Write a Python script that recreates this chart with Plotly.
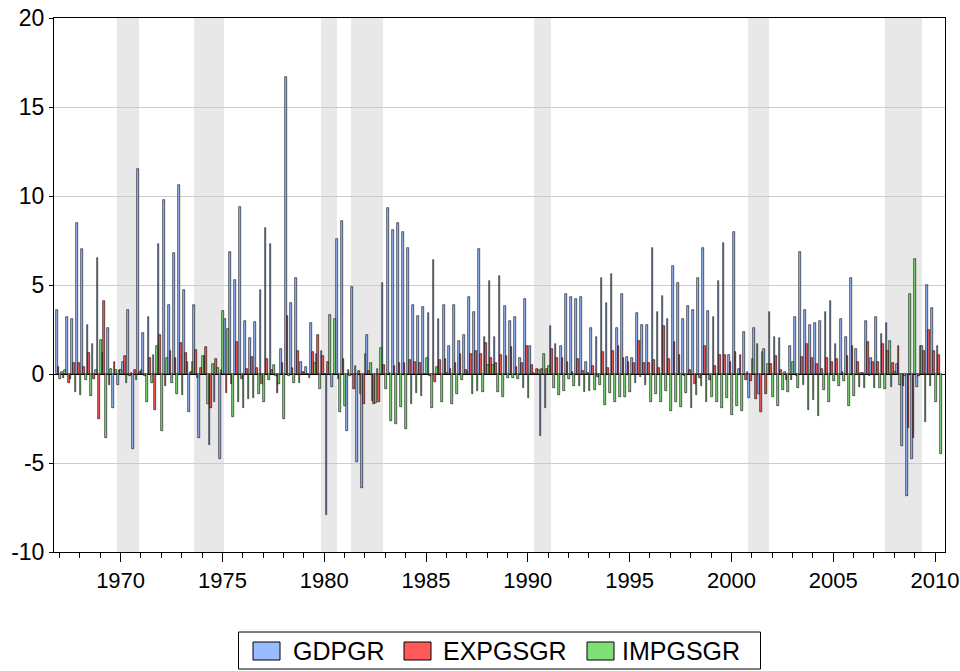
import plotly.graph_objects as go

# ---------------- data (quarterly, 1967Q1 - 2010Q2) ----------------
years = list(range(1967, 2011))
quarters = [f"{y}Q{q}" for y in years for q in range(1, 5)][:174]

gdpgr = [
    3.6, 0.1, 3.2, 3.1,      # 1967
    8.5, 7.0, 2.75, 1.7,     # 1968
    6.5, 1.2, 2.6, -1.9,     # 1969
    -0.6, 0.7, 3.6, -4.2,    # 1970
    11.5, 2.3, 3.2, 1.07,    # 1971
    7.3, 9.8, 3.9, 6.8,      # 1972
    10.6, 4.7, -2.15, 3.9,   # 1973
    -3.6, 1.0, -4.0, -1.6,   # 1974
    -4.8, 3.1, 6.85, 5.3,    # 1975
    9.4, 3.0, 2.0, 2.9,      # 1976
    4.7, 8.2, 7.3, -0.1,     # 1977
    1.4, 16.7, 4.0, 5.4,     # 1978
    0.7, 0.4, 2.85, 1.1,     # 1979
    1.3, -7.9, -0.75, 7.6,   # 1980
    8.6, -3.2, 4.9, -4.95,   # 1981
    -6.4, 2.2, -1.5, 0.3,    # 1982
    5.1, 9.3, 8.1, 8.5,      # 1983
    8.0, 7.1, 3.9, 3.25,     # 1984
    3.75, 3.4, 6.4, 3.1,     # 1985
    3.9, 1.6, 3.9, 1.85,     # 1986
    2.2, 4.3, 3.5, 7.0,      # 1987
    2.1, 5.2, 2.1, 5.5,      # 1988
    3.8, 3.0, 3.2, 0.9,      # 1989
    4.2, 1.6, 0.0, -3.5,     # 1990
    -1.9, 2.7, 1.7, 1.6,     # 1991
    4.5, 4.3, 4.2, 4.3,      # 1992
    0.7, 2.6, 2.1, 5.4,      # 1993
    4.0, 5.6, 2.6, 4.5,      # 1994
    0.95, 0.9, 3.4, 2.75,    # 1995
    2.75, 7.1, 3.5, 4.4,     # 1996
    3.1, 6.05, 5.1, 3.1,     # 1997
    3.8, 3.6, 5.4, 7.1,      # 1998
    3.55, 3.2, 5.2, 7.35,    # 1999
    1.05, 8.0, 0.3, 2.35,    # 2000
    -1.35, 2.6, -1.1, 1.4,   # 2001
    3.5, 2.1, 2.0, 0.1,      # 2002
    1.55, 3.2, 6.85, 3.6,    # 2003
    2.75, 2.85, 3.0, 3.5,    # 2004
    4.1, 1.7, 3.1, 2.1,      # 2005
    5.4, 1.4, 0.05, 3.0,     # 2006
    0.9, 3.2, 2.25, 2.85,    # 2007
    -0.75, 0.55, -4.05, -6.85,  # 2008
    -4.8, -0.75, 1.6, 5.0,   # 2009
    3.7, 1.6,                # 2010
]

expgsgr = [
    0.4, -0.2, -0.5, 0.6,    # 1967
    0.6, 0.4, 1.2, -0.3,     # 1968
    -2.5, 4.1, -0.6, 0.7,    # 1969
    0.2, 1.0, -0.1, 0.2,     # 1970
    0.1, -0.1, 0.9, -2.0,    # 1971
    2.2, -0.7, 1.3, 0.9,     # 1972
    1.75, 1.2, 0.1, 1.35,    # 1973
    0.35, 1.5, -1.9, 0.85,   # 1974
    0.25, -1.07, -0.55, 1.8, # 1975
    -0.3, 0.3, 0.95, 0.35,   # 1976
    -0.55, 0.85, 0.2, -1.07, # 1977
    0.6, 3.25, 0.35, 1.3,    # 1978
    0.1, 0.0, 1.25, 2.2,     # 1979
    1.0, 0.7, 0.0, -0.3,     # 1980
    0.85, 0.2, -0.85, 0.15,  # 1981
    -1.7, 0.15, -1.7, -1.6,  # 1982
    0.5, 0.05, 0.45, 0.6,    # 1983
    0.6, 0.8, 0.65, 0.6,     # 1984
    0.0, -0.1, -0.45, 0.8,   # 1985
    0.85, 0.3, 0.6, 1.1,     # 1986
    0.2, 1.1, 1.3, 1.15,     # 1987
    1.75, 0.9, 0.6, 1.05,    # 1988
    1.0, 1.5, 0.4, 0.6,      # 1989
    1.6, 0.5, 0.3, 0.3,      # 1990
    0.3, 1.4, 0.9, 0.9,      # 1991
    0.7, 0.1, 0.85, 0.15,    # 1992
    0.05, 0.45, -0.15, 1.25, # 1993
    0.35, 1.3, 1.55, 0.9,    # 1994
    0.7, 0.6, 1.85, 0.6,     # 1995
    0.6, 0.8, 0.35, 2.7,     # 1996
    0.85, 1.8, 1.05, -0.1,   # 1997
    0.2, -0.55, -0.25, 1.6,  # 1998
    -0.35, 0.45, 1.05, 1.05, # 1999
    0.7, 1.25, 1.05, -0.35,  # 2000
    -0.4, -1.4, -2.15, -1.1, # 2001
    0.55, 1.0, 0.2, -0.35,   # 2002
    -0.35, -0.1, 0.95, 1.7,  # 2003
    0.9, 0.55, 0.3, 0.9,     # 2004
    0.7, 0.85, 0.1, 1.0,     # 2005
    1.6, 0.7, 0.05, 1.8,     # 2006
    0.7, 0.7, 1.7, 1.3,      # 2007
    0.6, 1.55, -0.7, -3.05,  # 2008
    -3.6, -0.1, 1.3, 2.5,    # 2009
    1.3, 1.05,               # 2010
]

impgsgr = [
    -0.3, 0.2, -0.3, -1.0,   # 1967
    -1.2, -0.35, -1.25, 0.2, # 1968
    1.9, -3.6, 0.3, 0.2,     # 1969
    0.2, -0.5, 0.05, -0.35,  # 1970
    0.2, -1.6, -0.5, 1.55,   # 1971
    -3.2, 0.9, -0.5, -1.1,   # 1972
    -1.2, 0.7, 0.7, -0.2,    # 1973
    1.0, -1.7, 0.55, 0.35,   # 1974
    3.55, 2.55, -2.4, -1.6,  # 1975
    -1.9, -1.4, -1.35, -1.1, # 1976
    -1.6, -0.35, 0.5, -0.55, # 1977
    -2.5, -0.1, -0.5, -0.5,  # 1978
    0.05, -0.2, 0.6, -0.85,  # 1979
    0.0, 3.3, 3.1, -2.15,    # 1980
    -1.8, -0.1, 0.45, -1.1,  # 1981
    1.15, 0.6, -1.65, 1.45,  # 1982
    -0.85, -2.65, -2.8, -1.85,  # 1983
    -3.1, -1.7, -1.07, -1.25,   # 1984
    0.9, -1.9, 0.4, -1.55,   # 1985
    0.05, -1.7, -1.1, -0.35, # 1986
    0.1, -1.1, -0.95, -1.0,  # 1987
    0.5, 0.5, -1.0, -1.3,    # 1988
    -0.2, -0.2, -0.3, -0.8,  # 1989
    -1.35, 0.05, 0.2, 1.1,   # 1990
    0.45, -0.8, -1.2, -0.95, # 1991
    -0.3, -0.7, -0.7, -1.0,  # 1992
    -0.95, -0.9, -0.6, -1.75,   # 1993
    -1.07, -1.6, -1.3, -1.3,    # 1994
    -1.0, -0.5, -0.15, -0.6,    # 1995
    -1.6, -1.1, -1.6, -0.95,    # 1996
    -2.1, -1.6, -1.85, -1.07,   # 1997
    -1.9, -1.2, -0.7, -1.6,     # 1998
    -1.3, -1.6, -1.9, -1.35,    # 1999
    -2.3, -1.8, -2.1, 0.1,      # 2000
    0.85, 1.7, 1.25, 0.55,      # 2001
    -1.3, -1.8, -0.9, -1.0,     # 2002
    0.7, -0.8, -0.6, -2.0,      # 2003
    -1.45, -2.35, -0.9, -1.6,   # 2004
    -0.4, -0.7, -0.4, -1.8,     # 2005
    -1.25, -0.75, -0.8, -0.1,   # 2006
    -0.8, -0.8, -0.85, 1.85,    # 2007
    0.1, -0.6, -0.1, 4.5,       # 2008
    6.45, 1.55, -2.7, -0.7,     # 2009
    -1.6, -4.5,                 # 2010
]

# recession periods (decimal years, start/end of shaded band)
recessions = [
    (1969.82, 1970.90), (1973.61, 1975.08), (1979.84, 1980.63),
    (1981.32, 1982.89), (1990.31, 1991.14), (2000.82, 2001.85),
    (2007.54, 2009.36),
]

tick_years = [1970, 1975, 1980, 1985, 1990, 1995, 2000, 2005, 2010]
y_ticks = [-10, -5, 0, 5, 10, 15, 20]
y_ticklabels = ["-10", "-5", "0", "5", "10", "15", "20"]
series_names = ["GDPGR", "EXPGSGR", "IMPGSGR"]
series_colors = ["#99BBFF", "#FF5A5A", "#80E078"]

# numeric position of each quarter
def qpos(label):
    y, q = label.split("Q")
    return int(y) + (int(q) - 1) / 4 - 0.05

x = [qpos(q) for q in quarters]

FW, FH = 960, 671
FONT = "Liberation Sans, Arial"

fig = go.Figure()
for name, vals, col in zip(series_names, [gdpgr, expgsgr, impgsgr], series_colors):
    fig.add_trace(go.Bar(
        x=x, y=vals, name=name, showlegend=False,
        marker=dict(color=col, line=dict(color="black", width=0.6)),
    ))

shapes = []
for a, b in recessions:
    shapes.append(dict(type="rect", xref="x", yref="paper", x0=a, x1=b, y0=0, y1=1,
                       fillcolor="#E8E8E8", line=dict(width=0), layer="below"))

# plot area in screen pixels
L, T, R, B = 54, 18, 945, 552
PW, PH = R - L, B - T
def px_x(v):
    return (v - L) / PW
def px_y(v):
    return (B - v) / PH

shapes.append(dict(type="rect", xref="paper", yref="paper",
                   x0=px_x(238.5), x1=px_x(760.5), y0=px_y(632), y1=px_y(669),
                   line=dict(color="black", width=1), fillcolor="white"))
sw_x = [253, 404, 587]
txt_x = [291, 441, 620]
annotations = []
for sx, tx, name, col in zip(sw_x, txt_x, series_names, series_colors):
    shapes.append(dict(type="rect", xref="paper", yref="paper",
                       x0=px_x(sx), x1=px_x(sx + 27), y0=px_y(642), y1=px_y(660),
                       line=dict(color="black", width=1), fillcolor=col))
    annotations.append(dict(xref="paper", yref="paper", x=px_x(tx), y=px_y(651),
                            xanchor="left", yanchor="middle", text=name, showarrow=False,
                            font=dict(size=25, color="black", family=FONT)))

fig.update_layout(
    width=FW, height=FH,
    margin=dict(l=L, r=FW - R, t=T, b=FH - B, autoexpand=False),
    paper_bgcolor="white", plot_bgcolor="white",
    barmode="group", bargap=0, bargroupgap=0,
    font=dict(family=FONT, size=22, color="black"),
    shapes=shapes, annotations=annotations, showlegend=False,
)
fig.update_xaxes(
    range=[1966.729, 2010.49], tickmode="array", tickvals=tick_years,
    ticktext=[str(t) for t in tick_years], ticks="outside", ticklen=9,
    tickcolor="black", showgrid=False, zeroline=False,
    showline=True, linecolor="black", linewidth=1, mirror=True,
    minor=dict(tickmode="linear", tick0=1970, dtick=1, ticks="outside", ticklen=5,
               tickcolor="black", showgrid=False),
    tickfont=dict(size=22), ticklabeloverflow="allow",
)
fig.update_yaxes(
    range=[-10, 20], tickmode="array", tickvals=y_ticks, ticktext=y_ticklabels,
    ticks="outside", ticklen=4, tickcolor="black",
    showgrid=True, gridcolor="#CCCCCC", gridwidth=1,
    zeroline=True, zerolinecolor="black", zerolinewidth=1,
    showline=True, linecolor="black", linewidth=1, mirror=True,
    tickfont=dict(size=23), ticklabeloverflow="allow",
)

# remove the browser's default page margin so the figure sits at the window origin
fig.write_html("out.html", config={"displayModeBar": False},
               post_script="document.body.style.margin='0';")
